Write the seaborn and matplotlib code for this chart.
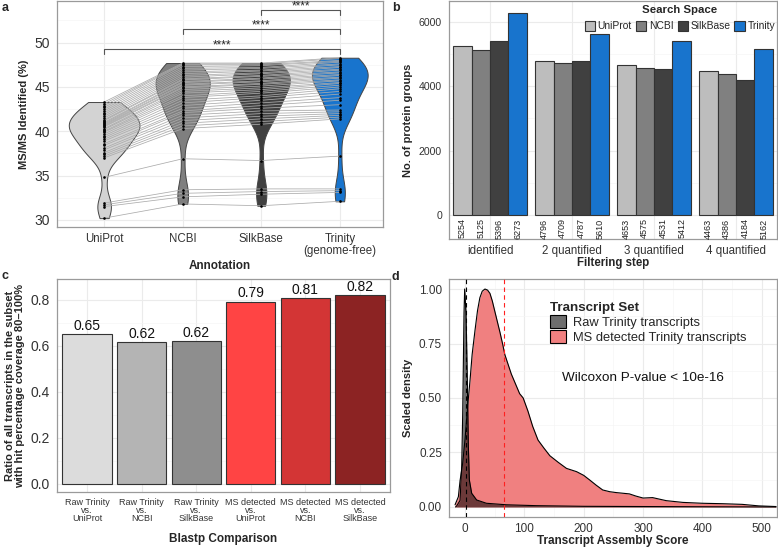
import matplotlib
matplotlib.use("Agg")
import matplotlib.pyplot as plt
import pandas as pd
import seaborn as sns
from matplotlib.patches import Patch
from matplotlib.ticker import AutoMinorLocator, MultipleLocator

# ---- panel a: MS/MS identified (%) per sample and annotation
annotations = ["UniProt", "NCBI", "SilkBase", "Trinity\n(genome-free)"]
msms_uniprot = [30.2, 31.5, 31.7, 31.9, 34.8,
                37.0, 37.2, 37.4, 37.6, 37.9, 38.1, 38.4, 38.6, 38.9, 39.1,
                39.3, 39.5, 39.7, 39.9, 40.0, 40.2, 40.3, 40.5, 40.6, 40.7,
                40.8, 40.9, 41.0, 41.2, 41.3, 41.5, 41.7, 41.9, 42.1, 42.3,
                42.5, 42.7, 42.9, 43.1, 43.3]
msms_ncbi = [31.8, 32.6, 33.0, 33.4, 36.9,
             40.3, 40.6, 40.9, 41.2, 41.5, 41.8, 42.1, 42.3, 42.6, 42.9,
             43.2, 43.5, 43.8, 44.0, 44.3, 44.5, 44.7, 44.9, 45.0, 45.2,
             45.3, 45.5, 45.6, 45.8, 45.9, 46.1, 46.3, 46.5, 46.7, 46.9,
             47.1, 47.3, 47.5, 47.6, 47.7]
msms_silkbase = [31.6, 32.9, 33.2, 33.5, 36.7,
                 40.8, 41.1, 41.4, 41.7, 42.0, 42.3, 42.6, 42.9, 43.2, 43.5,
                 43.8, 44.0, 44.3, 44.5, 44.7, 44.9, 45.1, 45.3, 45.4, 45.6,
                 45.7, 45.9, 46.0, 46.2, 46.3, 46.5, 46.6, 46.8, 46.9, 47.1,
                 47.2, 47.4, 47.5, 47.6, 47.7]
msms_trinity = [32.1, 33.1, 33.3, 33.5, 37.2,
                41.4, 41.6, 41.8, 42.0, 42.2, 42.4, 43.0, 43.5, 43.8, 44.2,
                44.5, 44.8, 45.0, 45.2, 45.4, 45.5, 45.7, 45.8, 46.0, 46.1,
                46.3, 46.4, 46.6, 46.7, 46.9, 47.0, 47.2, 47.3, 47.5, 47.6,
                47.8, 47.9, 48.0, 48.2, 48.3]
violin_colors = ["#d3d3d3", "#7f7f7f", "#404040", "#1874cd"]
violin_widths = [0.9, 0.69, 0.73, 0.71]
sig_pairs = [(0, 3), (1, 3), (2, 3)]
sig_heights = [49.3, 51.5, 53.65]
sig_text = "****"

# ---- panel b: protein groups per filtering step
filter_steps = ["identified", "2 quantified", "3 quantified", "4 quantified"]
search_spaces = ["UniProt", "NCBI", "SilkBase", "Trinity"]
groups_uniprot = [5254, 4796, 4653, 4463]
groups_ncbi = [5125, 4709, 4575, 4386]
groups_silkbase = [5396, 4787, 4531, 4184]
groups_trinity = [6273, 5610, 5412, 5162]
space_colors = ["#bdbdbd", "#808080", "#404040", "#1874cd"]

# ---- panel c: blastp coverage ratio
comparisons = ["Raw Trinity\nvs.\nUniProt", "Raw Trinity\nvs.\nNCBI",
               "Raw Trinity\nvs.\nSilkBase", "MS detected\nvs.\nUniProt",
               "MS detected\nvs.\nNCBI", "MS detected\nvs.\nSilkBase"]
coverage_ratio = [0.65, 0.617, 0.62, 0.793, 0.808, 0.82]
coverage_labels = ["0.65", "0.62", "0.62", "0.79", "0.81", "0.82"]
comparison_colors = ["#dcdcdc", "#b4b4b4", "#8e8e8e", "#ff4444", "#d33535", "#8c2323"]

# ---- panel d: scaled density of transcript assembly score
raw_score = [-16, -14, -8.4, -5.6, -3.9, -1.7, -0.6, 1.7, 3.9, 5.6, 7.3,
             11.2, 19.6, 36, 70, 120, 200, 300, 400, 524]
raw_density = [0.0, 0.005, 0.03, 0.185, 0.43, 0.89, 1.0, 0.89, 0.58, 0.28,
               0.124, 0.063, 0.032, 0.017, 0.01, 0.006, 0.003, 0.002, 0.001, 0.0]
ms_score = [-16.8, -11.2, -8.4, -4, 0, 4, 8.4, 12, 16.8, 21, 25, 29, 33.6,
            38, 42, 46, 50, 59, 64, 67, 78, 92, 98, 106, 114, 123, 133, 143,
            157, 171, 188, 200, 210, 221, 232, 244, 255, 266, 277, 288, 300,
            316, 339, 367, 400, 434, 467, 495, 524]
ms_density = [0.01, 0.047, 0.12, 0.2, 0.31, 0.45, 0.58, 0.7, 0.81, 0.9, 0.96,
              0.99, 1.0, 0.995, 0.98, 0.945, 0.9, 0.8, 0.74, 0.7, 0.61, 0.52,
              0.5, 0.44, 0.37, 0.307, 0.27, 0.235, 0.205, 0.177, 0.162, 0.145,
              0.124, 0.1, 0.078, 0.07, 0.066, 0.063, 0.06, 0.05, 0.041, 0.043,
              0.029, 0.021, 0.017, 0.015, 0.012, 0.005, 0.002]
raw_mean = 1
ms_mean = 66
wilcoxon_text = "Wilcoxon P-value < 10e-16"

sns.set_style("whitegrid", {"grid.color": "#ebebeb", "axes.edgecolor": "#9a9a9a"})
plt.rcParams["font.family"] = ["Liberation Sans", "DejaVu Sans"]
plt.rcParams["axes.linewidth"] = 0.9

W, H = 778, 547
fig = plt.figure(figsize=(W / 100, H / 100), dpi=100)


def box(left, top, right, bottom):
    return [left / W, 1 - bottom / H, (right - left) / W, (bottom - top) / H]


def style(ax, tick_size):
    ax.tick_params(axis="both", length=3, width=0.6, color="#555555",
                   labelsize=tick_size, labelcolor="#333333", pad=2)
    ax.tick_params(which="minor", length=0)
    ax.grid(which="major", color="#ebebeb", lw=0.8)
    ax.grid(which="minor", color="#f5f5f5", lw=0.5)
    ax.set_axisbelow(True)


# ---- a
ax = fig.add_axes(box(57, 1, 383, 227))
df_a = pd.DataFrame({
    "annotation": [a for a in annotations for _ in msms_uniprot],
    "msms": msms_uniprot + msms_ncbi + msms_silkbase + msms_trinity,
})
for name, col, wd in zip(annotations, violin_colors, violin_widths):
    sns.violinplot(data=df_a[df_a["annotation"] == name], x="annotation", y="msms",
                   order=annotations, color=col, saturation=1, inner=None, cut=0,
                   density_norm="width", width=wd, bw_adjust=0.75, linewidth=0.7,
                   linecolor="#444444", ax=ax)
for vals in zip(msms_uniprot, msms_ncbi, msms_silkbase, msms_trinity):
    ax.plot(range(4), vals, color="#ababab", lw=0.55, zorder=3)
sns.stripplot(data=df_a, x="annotation", y="msms", order=annotations, jitter=False,
              color="black", size=1.9, zorder=4, ax=ax)
for (i, j), h in zip(sig_pairs, sig_heights):
    ax.plot([i, i, j, j], [h - 0.55, h, h, h - 0.55], color="#555555", lw=0.8)
    ax.text((i + j) / 2, h + 0.05, sig_text, ha="center", va="baseline", fontsize=8.5)
ax.set_ylim(29.2, 54.7)
ax.set_xlim(-0.6, 3.55)
ax.yaxis.set_major_locator(MultipleLocator(5))
ax.yaxis.set_minor_locator(AutoMinorLocator(2))
style(ax, 10)
ax.tick_params(axis="x", labelsize=8.3, pad=1.5)
for t in ax.get_xticklabels():
    t.set_linespacing(0.95)
ax.set_xlabel("Annotation", fontsize=8.5, fontweight="bold", labelpad=2)
ax.set_ylabel("MS/MS Identified (%)", fontsize=8, fontweight="bold", labelpad=4)

# ---- b
ax = fig.add_axes(box(449, 1, 777, 239))
df_b = pd.DataFrame({
    "step": filter_steps * 4,
    "space": [s for s in search_spaces for _ in filter_steps],
    "count": groups_uniprot + groups_ncbi + groups_silkbase + groups_trinity,
})
sns.barplot(data=df_b, x="step", y="count", hue="space", order=filter_steps,
            hue_order=search_spaces, palette=space_colors, saturation=1, width=0.9,
            edgecolor="#333333", linewidth=0.8, ax=ax)
for cont in ax.containers:
    for bar, v in zip(cont, cont.datavalues):
        ax.text(bar.get_x() + bar.get_width() / 2, -110, f"{v:.0f}", rotation=90,
                ha="center", va="top", fontsize=6.5, color="#222222")
ax.set_ylim(-749, 6646)
ax.yaxis.set_major_locator(MultipleLocator(2000))
ax.yaxis.set_minor_locator(AutoMinorLocator(2))
style(ax, 7.6)
ax.tick_params(axis="x", labelsize=8.3, pad=1.5)
ax.set_xlabel("Filtering step", fontsize=8.3, fontweight="bold", labelpad=0)
ax.set_ylabel("No. of protein groups", fontsize=8, fontweight="bold", labelpad=4)
leg = ax.legend(title="Search Space", ncol=4, loc="upper right",
                bbox_to_anchor=(1.0, 0.99), frameon=False, fontsize=7.4,
                handlelength=1.0, handleheight=1.15, handletextpad=0.25,
                columnspacing=0.4, borderaxespad=0.1, borderpad=0.1,
                title_fontproperties={"weight": "bold", "size": 8.2})

# ---- c
ax = fig.add_axes(box(57, 279, 390, 492))
df_c = pd.DataFrame({"comparison": comparisons, "ratio": coverage_ratio})
sns.barplot(data=df_c, x="comparison", y="ratio", hue="comparison",
            order=comparisons, palette=comparison_colors, saturation=1, width=0.9,
            edgecolor="#333333", linewidth=0.8, legend=False, ax=ax)
for cont, lab in zip(ax.containers, coverage_labels):
    ax.bar_label(cont, labels=[lab], fontsize=10, padding=1, color="#111111")
ax.set_ylim(-0.035, 0.891)
ax.set_xlim(-0.55, 5.55)
ax.yaxis.set_major_locator(MultipleLocator(0.2))
ax.yaxis.set_minor_locator(AutoMinorLocator(2))
style(ax, 10)
ax.tick_params(axis="x", labelsize=6.5, pad=1)
for t in ax.get_xticklabels():
    t.set_linespacing(0.92)
ax.set_xlabel("Blastp Comparison", fontsize=8.5, fontweight="bold", labelpad=7)
ax.set_ylabel("Ratio of all transcripts in the subset\nwith hit percentage coverage 80\u2013100%",
              fontsize=8, fontweight="bold", labelpad=4, linespacing=1.0)

# ---- d
ax = fig.add_axes(box(449, 279, 777, 517))
ax.fill_between(ms_score, ms_density, color="#f08080", lw=0, zorder=2)
sns.lineplot(x=ms_score, y=ms_density, sort=False, color="black", lw=0.8, zorder=3, ax=ax)
ax.fill_between(raw_score, raw_density, color="black", alpha=0.55, lw=0, zorder=4)
sns.lineplot(x=raw_score, y=raw_density, sort=False, color="black", lw=0.8, zorder=5, ax=ax)
ax.axvline(raw_mean, color="black", ls=(0, (4, 3)), lw=0.8, zorder=6)
ax.axvline(ms_mean, color="#ff2020", ls=(0, (4, 3)), lw=0.8, zorder=6)
ax.set_xlim(-27, 525.7)
ax.set_ylim(-0.046, 1.046)
ax.xaxis.set_major_locator(MultipleLocator(100))
ax.xaxis.set_minor_locator(AutoMinorLocator(2))
ax.yaxis.set_major_locator(MultipleLocator(0.25))
ax.yaxis.set_minor_locator(AutoMinorLocator(2))
ax.yaxis.set_major_formatter(lambda v, p: f"{v:.2f}")
style(ax, 8.5)
ax.tick_params(axis="x", pad=1.5)
ax.set_xlabel("Transcript Assembly Score", fontsize=8.5, fontweight="bold", labelpad=0)
ax.set_ylabel("Scaled density", fontsize=8, fontweight="bold", labelpad=4)
handles = [Patch(facecolor="#6e6e6e", edgecolor="black", lw=0.8),
           Patch(facecolor="#f08080", edgecolor="black", lw=0.8)]
leg = ax.legend(handles, ["Raw Trinity transcripts", "MS detected Trinity transcripts"],
                title="Transcript Set", loc="upper left", bbox_to_anchor=(0.285, 0.935),
                frameon=False, fontsize=9.3, handlelength=1.25, handleheight=1.15,
                handletextpad=0.5, labelspacing=0.08, borderpad=0.1,
                title_fontproperties={"weight": "bold", "size": 9.6})
leg._legend_box.align = "left"
ax.text(0.345, 0.585, wilcoxon_text, transform=ax.transAxes, fontsize=9.7,
        va="center", ha="left", color="#111111")

for lab, x, y in [("a", 2, 8), ("b", 392, 8), ("c", 2, 276), ("d", 392, 277)]:
    fig.text(x / W, 1 - y / H, lab, fontsize=9, fontweight="bold", va="center")

fig.savefig("out.png", dpi=100)
